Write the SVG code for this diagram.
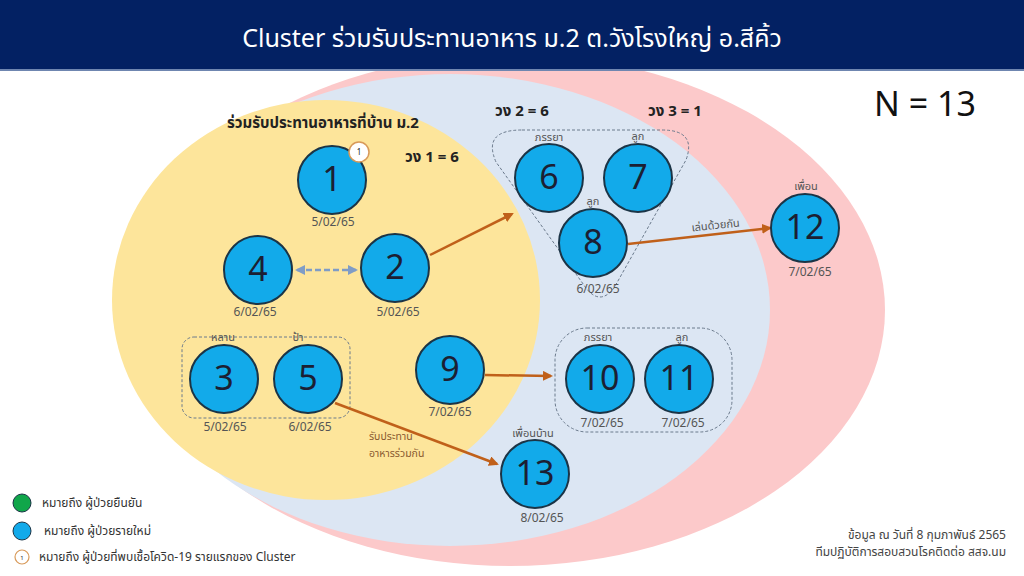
<svg xmlns="http://www.w3.org/2000/svg" width="1024" height="576" viewBox="0 0 1024 576">
<defs>
<style>
text{font-family:"Noto Sans Thai","Noto Sans","DejaVu Sans",sans-serif;}
.node{fill:#12aaea;stroke:#1b3446;stroke-width:2;}
.num{font-size:34px;fill:#1c1f33;text-anchor:middle;dominant-baseline:central;}
.date{font-size:12px;fill:#555;text-anchor:middle;}
.rel{font-size:11px;fill:#555;text-anchor:middle;}
.ring{font-size:15px;font-weight:bold;fill:#222;}
.grp{fill:none;stroke:#6b7a8c;stroke-width:1;stroke-dasharray:3 2;}
.arr{stroke:#c0601a;stroke-width:2.5;fill:none;marker-end:url(#ah);}
.leg{font-size:12px;fill:#333;}
</style>
<marker id="ah" viewBox="0 0 10 10" refX="8" refY="5" markerWidth="4" markerHeight="4" orient="auto"><path d="M0,0 L10,5 L0,10 z" fill="#c0601a"/></marker>
<marker id="bh" viewBox="0 0 10 10" refX="8" refY="5" markerWidth="4" markerHeight="4" orient="auto-start-reverse"><path d="M0,0 L10,5 L0,10 z" fill="#7f9cc6"/></marker>
</defs>
<rect width="1024" height="576" fill="#ffffff"/>
<g id="rings">
<ellipse cx="510" cy="310" rx="375" ry="256" fill="#fcc9ca"/>
<ellipse cx="450" cy="310" rx="320" ry="236" fill="#dce6f3"/>
<ellipse cx="326" cy="300" rx="214" ry="200" fill="#fde59b"/>
</g>
<g id="header">
<rect x="0" y="0" width="1024" height="70" fill="#032163"/>
<rect x="0" y="69" width="1024" height="2" fill="#6f86b0"/>
<text x="512" y="47" font-size="25" fill="#ffffff" text-anchor="middle">Cluster ร่วมรับประทานอาหาร ม.2 ต.วังโรงใหญ่ อ.สีคิ้ว</text>
</g>
<text x="925" y="116" font-size="34" fill="#111" text-anchor="middle">N = 13</text>
<text x="323" y="128" font-size="15" font-weight="bold" fill="#222" text-anchor="middle">ร่วมรับประทานอาหารที่บ้าน ม.2</text>
<text class="ring" x="405" y="162">วง 1 = 6</text>
<text class="ring" x="495" y="116">วง 2 = 6</text>
<text class="ring" x="648" y="116">วง 3 = 1</text>
<g id="groups">
<rect class="grp" x="182" y="337" width="168" height="81" rx="12"/>
<rect class="grp" x="555" y="328" width="177" height="104" rx="32"/>
<path class="grp" d="M522,130 L662,130 Q697,130 686,160 L614,288 Q600,306 586,288 L496,162 Q482,130 522,130 Z"/>
</g>
<g id="connectors">
<line x1="297" y1="270" x2="356" y2="270" stroke="#7f9cc6" stroke-width="2.5" stroke-dasharray="6 3" marker-start="url(#bh)" marker-end="url(#bh)"/>
<line class="arr" x1="430" y1="255" x2="512" y2="214"/>
<line class="arr" x1="628" y1="244" x2="770" y2="228"/>
<line class="arr" x1="485" y1="375" x2="551" y2="376"/>
<line class="arr" x1="335" y1="403" x2="497" y2="464"/>
<text x="716" y="229" font-size="11" fill="#555" text-anchor="middle" transform="rotate(-6 716 229)">เล่นด้วยกัน</text>
<text x="369" y="440" font-size="10.5" fill="#8a5a30">รับประทาน</text>
<text x="369" y="457" font-size="10.5" fill="#8a5a30">อาหารร่วมกัน</text>
</g>
<g id="n1"><circle class="node" cx="332" cy="180" r="34"/><text class="num" x="332" y="180">1</text><text class="date" x="333" y="226">5/02/65</text>
<circle cx="359" cy="152" r="10" fill="#fff" stroke="#d89a5a" stroke-width="1.5"/><text x="359" y="155" font-size="8" fill="#222" text-anchor="middle">1</text></g>
<g id="n4"><circle class="node" cx="258" cy="270" r="34"/><text class="num" x="258" y="270">4</text><text class="date" x="255" y="316">6/02/65</text></g>
<g id="n2"><circle class="node" cx="395" cy="268" r="34"/><text class="num" x="395" y="268">2</text><text class="date" x="398" y="316">5/02/65</text></g>
<g id="n3"><circle class="node" cx="224" cy="379" r="34"/><text class="num" x="224" y="379">3</text><text class="rel" x="223" y="341">หลาน</text><text class="date" x="225" y="431">5/02/65</text></g>
<g id="n5"><circle class="node" cx="308" cy="379" r="34"/><text class="num" x="308" y="379">5</text><text class="rel" x="298" y="341">ป้า</text><text class="date" x="310" y="431">6/02/65</text></g>
<g id="n9"><circle class="node" cx="450" cy="370" r="34"/><text class="num" x="450" y="370">9</text><text class="date" x="450" y="416">7/02/65</text></g>
<g id="n6"><circle class="node" cx="549" cy="178" r="34"/><text class="num" x="549" y="178">6</text><text class="rel" x="549" y="141">ภรรยา</text></g>
<g id="n7"><circle class="node" cx="638" cy="178" r="34"/><text class="num" x="638" y="178">7</text><text class="rel" x="638" y="140">ลูก</text></g>
<g id="n8"><circle class="node" cx="593" cy="243" r="34"/><text class="num" x="593" y="243">8</text><text class="rel" x="593" y="205">ลูก</text><text class="date" x="598" y="293">6/02/65</text></g>
<g id="n12"><circle class="node" cx="805" cy="228" r="34"/><text class="num" x="805" y="228">12</text><text class="rel" x="806" y="190">เพื่อน</text><text class="date" x="810" y="276">7/02/65</text></g>
<g id="n10"><circle class="node" cx="600" cy="379" r="34"/><text class="num" x="600" y="379">10</text><text class="rel" x="598" y="341">ภรรยา</text><text class="date" x="602" y="427">7/02/65</text></g>
<g id="n11"><circle class="node" cx="679" cy="379" r="34"/><text class="num" x="679" y="379">11</text><text class="rel" x="682" y="341">ลูก</text><text class="date" x="683" y="427">7/02/65</text></g>
<g id="n13"><circle class="node" cx="535" cy="474" r="34"/><text class="num" x="535" y="474">13</text><text class="rel" x="533" y="437">เพื่อนบ้าน</text><text class="date" x="542" y="522">8/02/65</text></g>
<g id="legend">
<circle cx="22" cy="503" r="9" fill="#10a64a" stroke="#1b3446" stroke-width="1"/>
<text class="leg" x="42" y="507">หมายถึง ผู้ป่วยยืนยัน</text>
<circle cx="22" cy="531" r="9" fill="#12aaea" stroke="#1b3446" stroke-width="1"/>
<text class="leg" x="44" y="535">หมายถึง ผู้ป่วยรายใหม่</text>
<circle cx="22" cy="557" r="7" fill="#fff" stroke="#d89a5a" stroke-width="1.2"/>
<text x="22" y="559.5" font-size="6" fill="#222" text-anchor="middle">1</text>
<text class="leg" x="39" y="561">หมายถึง ผู้ป่วยที่พบเชื้อโควิด-19 รายแรกของ Cluster</text>
</g>
<text x="1006" y="539" font-size="12" fill="#444" text-anchor="end">ข้อมูล ณ วันที่ 8 กุมภาพันธ์ 2565</text>
<text x="1006" y="556" font-size="12" fill="#444" text-anchor="end">ทีมปฏิบัติการสอบสวนโรคติดต่อ สสจ.นม</text>
</svg>
